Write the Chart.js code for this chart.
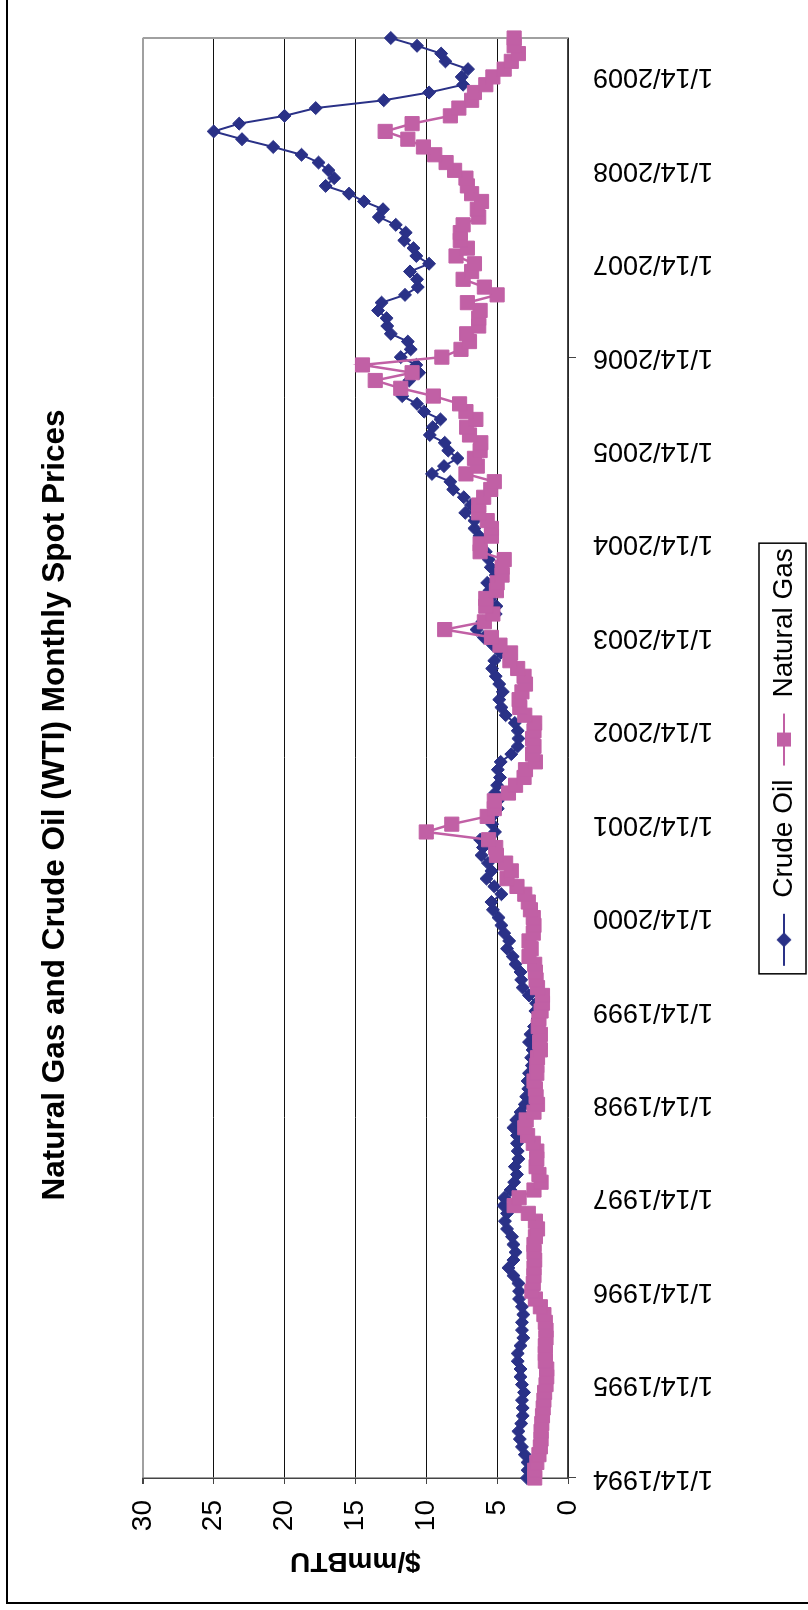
<!DOCTYPE html>
<html>
<head>
<meta charset="utf-8">
<title>Natural Gas and Crude Oil (WTI) Monthly Spot Prices</title>
<script src="https://cdn.jsdelivr.net/npm/chart.js@4.4.0/dist/chart.umd.min.js"></script>
<style>
  html, body { margin: 0; padding: 0; background: #fff; overflow: hidden; }
  /* chart is laid out landscape, then turned a quarter turn to fit the page */
  #wrap {
    position: absolute; left: 0; top: 0;
    width: 1610px; height: 808px;
    transform-origin: 0 0;
    transform: translateY(1610px) rotate(-90deg);
  }
</style>
</head>
<body>
<div id="wrap"><canvas id="priceChart" width="1610" height="808"></canvas></div>
<script>
// Monthly spot prices, $/mmBTU, Jan 1994 - Jun 2009
const crudeOil = [
    2.9, 2.85, 2.85, 3.05, 3.25, 3.4, 3.5, 3.3, 3.2, 3.2, 3.25, 3.1,          // 1994
    3.25, 3.35, 3.35, 3.55, 3.55, 3.35, 3.15, 3.25, 3.25, 3.15, 3.25, 3.45,   // 1995
    3.45, 3.5, 3.85, 4.2, 3.85, 3.7, 3.85, 3.95, 4.3, 4.45, 4.3, 4.55,        // 1996
    4.5, 4.05, 3.8, 3.6, 3.75, 3.5, 3.55, 3.6, 3.6, 3.85, 3.65, 3.35,         // 1997
    3.05, 2.95, 2.8, 2.85, 2.75, 2.55, 2.6, 2.5, 2.75, 2.65, 2.4, 2.15,       // 1998
    2.3, 2.25, 2.75, 3.2, 3.3, 3.35, 3.7, 3.9, 4.3, 4.15, 4.5, 4.7,           // 1999
    4.9, 5.3, 5.4, 4.7, 5.2, 5.75, 5.4, 5.65, 6.1, 6.0, 6.2, 5.15,            // 2000
    5.35, 5.35, 4.95, 4.95, 5.15, 5.0, 4.8, 4.95, 4.75, 4.0, 3.55, 3.5,       // 2001
    3.55, 3.75, 4.4, 4.7, 4.85, 4.6, 4.85, 5.1, 5.35, 5.2, 4.75, 5.3,         // 2002
    5.95, 6.45, 6.05, 5.1, 5.05, 5.5, 5.55, 5.7, 5.1, 5.45, 5.6, 5.8,         // 2003
    6.2, 6.25, 6.6, 6.6, 7.25, 6.85, 7.35, 8.1, 8.3, 9.6, 8.75, 7.8,          // 2004
    8.45, 8.7, 9.75, 9.55, 9.0, 10.15, 10.65, 11.7, 11.8, 11.2, 10.5, 10.7,   // 2005
    11.8, 11.1, 11.3, 12.5, 12.75, 12.8, 13.4, 13.15, 11.5, 10.6, 10.65, 11.15, // 2006
    9.8, 10.7, 10.9, 11.55, 11.45, 12.15, 13.35, 13.05, 14.4, 15.45, 17.1, 16.5, // 2007
    16.9, 17.6, 18.8, 20.8, 23.0, 25.0, 23.2, 20.0, 17.8, 13.0, 9.8, 7.4,     // 2008
    7.5, 7.05, 8.65, 8.95, 10.65, 12.5                                        // 2009
];

const naturalGas = [
    2.35, 2.35, 2.2, 2.05, 1.95, 1.9, 1.9, 1.85, 1.8, 1.75, 1.7, 1.65,        // 1994
    1.55, 1.5, 1.5, 1.6, 1.6, 1.6, 1.55, 1.55, 1.6, 1.7, 1.95, 2.3,           // 1995
    2.55, 2.45, 2.4, 2.4, 2.35, 2.4, 2.4, 2.3, 2.15, 2.3, 2.8, 3.8,           // 1996
    3.45, 2.4, 1.9, 2.05, 2.25, 2.2, 2.2, 2.45, 2.85, 3.05, 2.95, 2.4,        // 1997
    2.15, 2.25, 2.3, 2.4, 2.2, 2.2, 2.15, 1.95, 2.0, 1.95, 2.1, 2.05,         // 1998
    1.9, 1.8, 1.8, 2.15, 2.25, 2.3, 2.35, 2.75, 2.6, 2.75, 2.45, 2.4,         // 1999
    2.45, 2.65, 2.8, 3.05, 3.6, 4.3, 4.0, 4.4, 5.05, 5.1, 5.6, 10.0,          // 2000
    8.2, 5.7, 5.2, 5.2, 4.2, 3.7, 3.1, 3.0, 2.3, 2.5, 2.4, 2.5,               // 2001
    2.4, 2.35, 3.05, 3.4, 3.45, 3.25, 3.0, 3.1, 3.55, 4.1, 4.05, 4.8,         // 2002
    5.4, 8.7, 5.9, 5.3, 5.8, 5.8, 5.05, 5.0, 4.65, 4.65, 4.5, 6.2,            // 2003
    6.2, 5.4, 5.4, 5.7, 6.3, 6.3, 5.95, 5.45, 5.2, 7.2, 6.4, 6.6,             // 2004
    6.2, 6.15, 6.95, 7.15, 6.5, 7.2, 7.65, 9.5, 11.8, 13.6, 11.0, 14.5,       // 2005
    8.9, 7.55, 6.95, 7.15, 6.3, 6.3, 6.2, 7.1, 5.0, 5.9, 7.4, 6.8,            // 2006
    6.6, 7.9, 7.1, 7.6, 7.6, 7.4, 6.3, 6.4, 6.1, 6.8, 7.1, 7.2,               // 2007
    8.0, 8.6, 9.4, 10.2, 11.3, 12.9, 11.0, 8.3, 7.7, 6.8, 6.6, 5.8,           // 2008
    5.3, 4.5, 4.0, 3.5, 3.8, 3.8                                              // 2009
];

// one label per year on the date axis
const yearTicks = [
    '1/14/1994', '1/14/1995', '1/14/1996', '1/14/1997', '1/14/1998', '1/14/1999',
    '1/14/2000', '1/14/2001', '1/14/2002', '1/14/2003', '1/14/2004', '1/14/2005',
    '1/14/2006', '1/14/2007', '1/14/2008', '1/14/2009'
];

// category per month
const months = [];
for (let i = 0; i < crudeOil.length; i++) {
    months.push(((i % 12) + 1) + '/14/' + (1994 + Math.floor(i / 12)));
}

const oilColor = '#2A3187';
const gasColor = '#C160A5';
const fontFamily = '"Liberation Sans", Arial, Helvetica, sans-serif';

// little line-with-marker swatches for the legend
function legendIcon(color, shape) {
    const c = document.createElement('canvas');
    c.width = 56;
    c.height = 20;
    const g = c.getContext('2d');
    g.strokeStyle = color;
    g.lineWidth = 2;
    g.beginPath();
    g.moveTo(2, 10);
    g.lineTo(54, 10);
    g.stroke();
    g.fillStyle = color;
    g.beginPath();
    if (shape === 'diamond') {
        g.moveTo(28, 2.5);
        g.lineTo(35.5, 10);
        g.lineTo(28, 17.5);
        g.lineTo(20.5, 10);
        g.closePath();
    } else {
        g.rect(21, 3, 14, 14);
    }
    g.fill();
    return c;
}
const legendIcons = [legendIcon(oilColor, 'diamond'), legendIcon(gasColor, 'square')];

// white page, outer frame, plot frame and legend box
const framePlugin = {
    id: 'frames',
    beforeDraw(chart) {
        const ctx = chart.ctx;
        ctx.save();
        ctx.fillStyle = '#fff';
        ctx.fillRect(0, 0, chart.width, chart.height);
        ctx.strokeStyle = '#000';
        ctx.lineWidth = 2;
        ctx.strokeRect(7, 7, chart.width + 40, chart.height + 40);
        ctx.restore();
    },
    beforeDatasetsDraw(chart) {
        const { ctx, chartArea } = chart;
        ctx.save();
        ctx.strokeStyle = '#a0a0a0';
        ctx.lineWidth = 2;
        ctx.beginPath();
        ctx.moveTo(chartArea.right, chartArea.top);
        ctx.lineTo(chartArea.right, chartArea.bottom);
        ctx.stroke();
        ctx.restore();
    },
    afterDraw(chart) {
        const legend = chart.legend;
        const boxes = legend.legendHitBoxes;
        if (!boxes || !boxes.length) return;
        const last = boxes[boxes.length - 1];
        const ctx = chart.ctx;
        ctx.save();
        ctx.strokeStyle = '#000';
        ctx.lineWidth = 1.5;
        ctx.strokeRect(boxes[0].left - 6, legend.top + 1, last.left + last.width + 11 - boxes[0].left, legend.bottom - legend.top - 3);
        ctx.restore();
    }
};

const priceChart = new Chart(document.getElementById('priceChart'), {
    type: 'line',
    data: {
        labels: months,
        datasets: [{
            label: 'Crude Oil',
            data: crudeOil,
            xAxisID: 'x',
            yAxisID: 'y',
            borderColor: oilColor,
            backgroundColor: oilColor,
            borderWidth: 2,
            pointStyle: 'rectRot',
            pointRadius: 6.5,
            pointBorderWidth: 1,
            tension: 0,
            clip: false,
            order: 1
        }, {
            label: 'Natural Gas',
            data: naturalGas,
            xAxisID: 'x',
            yAxisID: 'y',
            borderColor: gasColor,
            backgroundColor: gasColor,
            borderWidth: 2.5,
            pointStyle: 'rect',
            pointRadius: 10,
            pointBorderWidth: 1,
            tension: 0,
            clip: false,
            order: 0
        }]
    },
    options: {
        responsive: false,
        animation: false,
        events: [],
        layout: { padding: 0 },
        plugins: {
            title: {
                display: true,
                text: 'Natural Gas and Crude Oil (WTI) Monthly Spot Prices',
                color: '#000',
                font: { family: fontFamily, size: 31.5, weight: 'bold' },
                padding: { top: 36, bottom: 69 }
            },
            legend: {
                position: 'bottom',
                fullSize: false,
                labels: {
                    usePointStyle: true,
                    pointStyleWidth: 56,
                    color: '#000',
                    font: { family: fontFamily, size: 28 },
                    padding: 12,
                    generateLabels: (chart) => chart.data.datasets.map((ds, i) => ({
                        text: ds.label,
                        pointStyle: legendIcons[i],
                        fillStyle: ds.backgroundColor,
                        strokeStyle: ds.borderColor,
                        lineWidth: 0,
                        hidden: false,
                        datasetIndex: i
                    }))
                }
            },
            tooltip: { enabled: false }
        },
        scales: {
            x: {
                type: 'category',
                offset: false,
                grid: {
                    drawOnChartArea: false,
                    drawTicks: true,
                    tickLength: 8,
                    color: (ctx) => ctx.index % 12 === 0 ? '#444' : 'rgba(0,0,0,0)'
                },
                border: { display: true, color: '#444', width: 1.5 },
                ticks: {
                    autoSkip: false,
                    minRotation: 90,
                    maxRotation: 90,
                    padding: 17,
                    color: '#000',
                    font: { family: fontFamily, size: 27 },
                    callback: (value, index) => index % 12 === 0 ? yearTicks[index / 12] : null
                },
                afterFit: (scale) => { scale.height = 190; }
            },
            y: {
                position: 'left',
                min: 0,
                max: 30,
                ticks: {
                    stepSize: 5,
                    padding: 16,
                    color: '#000',
                    font: { family: fontFamily, size: 28 }
                },
                grid: {
                    color: (ctx) => ctx.tick && ctx.tick.value === 30 ? '#a0a0a0' : '#111',
                    lineWidth: (ctx) => ctx.tick && ctx.tick.value === 30 ? 2 : 1,
                    tickLength: 6,
                    tickColor: '#444'
                },
                border: { display: true, color: '#444', width: 1.5 },
                title: {
                    display: true,
                    text: '$/mmBTU',
                    color: '#000',
                    font: { family: fontFamily, size: 28, weight: 'bold' },
                    padding: { top: 32, bottom: 0 }
                },
                afterFit: (scale) => { scale.width = 132; }
            },
            // empty strip that keeps the plot off the right edge
            pad: {
                axis: 'y',
                position: 'right',
                display: true,
                ticks: { display: false },
                grid: { display: false },
                border: { display: false },
                afterFit: (scale) => { scale.width = 38; }
            }
        }
    },
    plugins: [framePlugin]
});
</script>
</body>
</html>
